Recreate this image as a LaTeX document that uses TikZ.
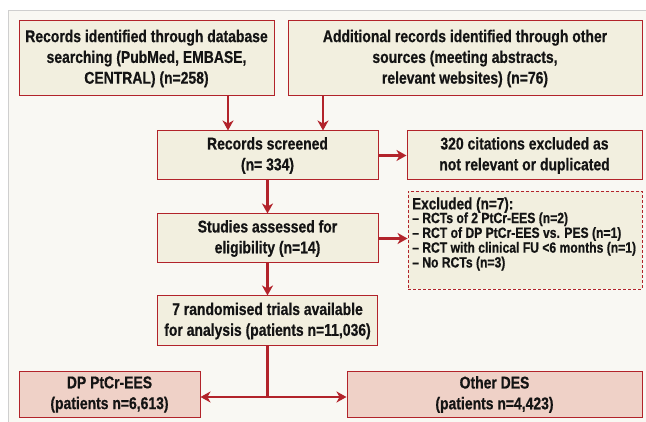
\documentclass[tikz,border=0pt]{standalone}
\usepackage{fontspec}
\setmainfont{Liberation Sans}[FakeStretch=0.82, BoldFeatures={FakeBold=0.6}]
\usetikzlibrary{arrows.meta}
\definecolor{bred}{HTML}{B2232A}
\definecolor{boxfill}{HTML}{F2EFDF}
\definecolor{pinkfill}{HTML}{EFD1C7}
\definecolor{panelbg}{HTML}{F9F8F3}
\definecolor{panelline}{HTML}{CFCFCF}
\definecolor{txt}{HTML}{141414}
\tikzset{
  box/.style={draw=bred, line width=1pt, fill=boxfill, text=txt, align=center, inner sep=2pt,
    font=\bfseries\fontsize{17}{20.8}\selectfont},
  pbox/.style={box, fill=pinkfill},
  dbox/.style={draw=bred, line width=0.9pt, dash pattern=on 3pt off 2pt, fill=boxfill, inner sep=0pt},
  dtext/.style={text=txt, align=left, inner sep=0pt},
  arr/.style={draw=bred, line width=2.4pt, -{Stealth[length=10pt,width=11pt,inset=3pt]}},
  ln/.style={draw=bred, line width=2.4pt}
}
\begin{document}
\begin{tikzpicture}[x=1pt,y=-1pt]
\useasboundingbox (0,0) rectangle (646,422);
\fill[white] (0,0) rectangle (646,422);
\draw[panelline, line width=1pt, fill=panelbg] (8,11) rectangle (660,440);

\node[box, minimum width=255pt, minimum height=75pt] (A) at (146.5,58.5)
  {Records identified through database\\searching (PubMed, EMBASE,\\CENTRAL) (n=258)};
\node[box, minimum width=354pt, minimum height=75pt] (B) at (465,58.5)
  {Additional records identified through other\\sources (meeting abstracts,\\relevant websites) (n=76)};
\node[box, minimum width=221pt, minimum height=49pt] (S) at (267.5,155.5)
  {Records screened\\(n= 334)};
\node[box, minimum width=235pt, minimum height=49pt] (C) at (524.5,155.5)
  {320 citations excluded as\\not relevant or duplicated};
\node[box, minimum width=221pt, minimum height=49pt] (E) at (267.5,238.5)
  {Studies assessed for\\eligibility (n=14)};
\node[dbox, minimum width=234pt, minimum height=98pt] (X) at (525,240) {};
\node[dtext, anchor=west] (Xt) at (412,234)
  {\parbox{228pt}{\raggedright\bfseries
   {\fontsize{16.5}{16}\selectfont Excluded (n=7):}\\[-1.5pt]
   {\fontsize{14.8}{13}\selectfont
   -- RCTs of 2 PtCr-EES (n=2)\\
   -- RCT of DP PtCr-EES vs. PES (n=1)\\
   -- RCT with clinical FU <6 months (n=1)\\
   -- No RCTs (n=3)}}};
\node[box, minimum width=220pt, minimum height=50pt] (T) at (267.5,321)
  {7 randomised trials available\\for analysis (patients n=11,036)};
\node[pbox, minimum width=181pt, minimum height=45pt] (D) at (109.5,394.5)
  {DP PtCr-EES\\(patients n=6,613)};
\node[pbox, minimum width=295pt, minimum height=45pt] (O) at (494.5,394.5)
  {Other DES\\(patients n=4,423)};

\coordinate (xa) at (228,0);
\coordinate (xb) at (323,0);
\draw[arr] (xa |- A.south) -- (xa |- S.north);
\draw[arr] (xb |- B.south) -- (xb |- S.north);
\draw[arr] (S.east) -- (C.west);
\draw[arr] (S.south) -- (E.north);
\draw[arr] (E.east) -- (E.east -| X.west);
\draw[arr] (E.south) -- (T.north);
\coordinate (j) at (267.5,397);
\draw[ln] (T.south) -- (j);
\draw[arr] (j) -- (D.east |- j);
\draw[arr] (j) -- (O.west |- j);
\end{tikzpicture}
\end{document}
